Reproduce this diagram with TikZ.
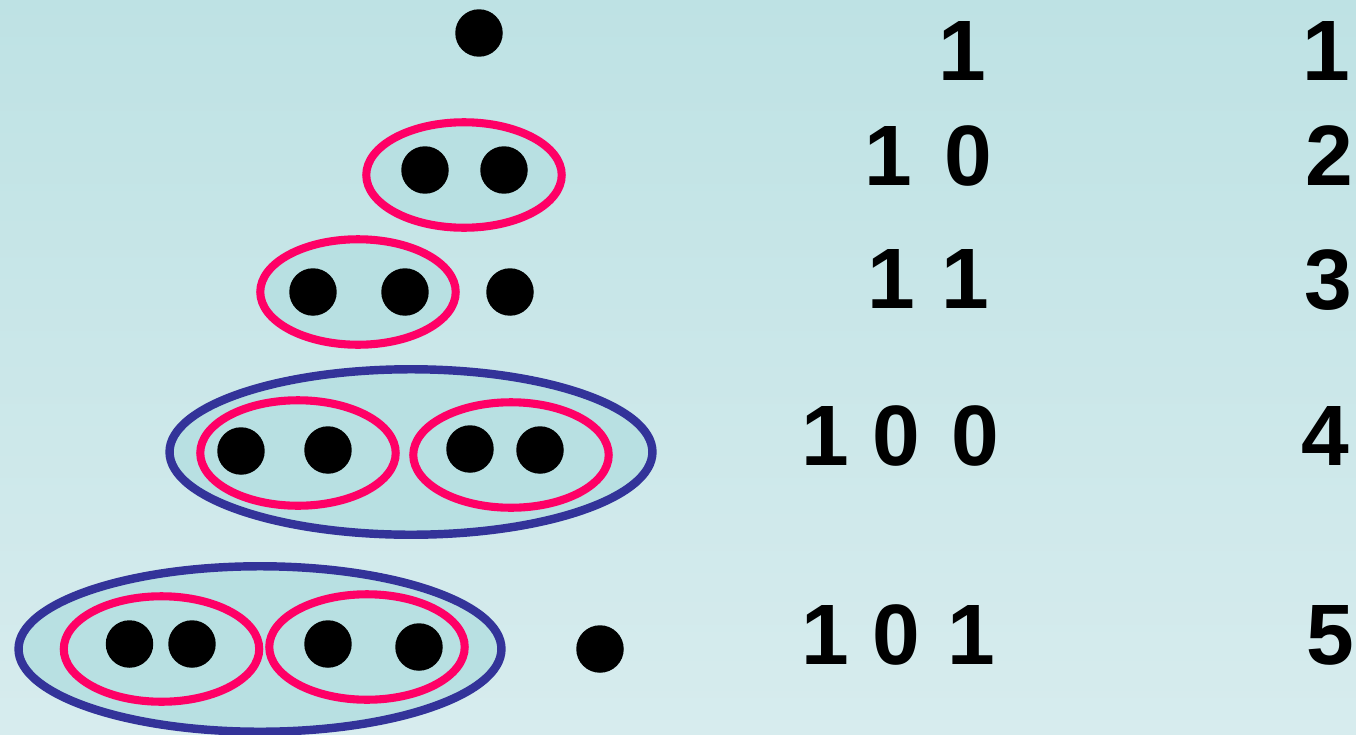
\documentclass[tikz,border=0pt]{standalone}
\usepackage{fontspec}
\setmainfont{Liberation Sans}
\usepackage{tikz}
\usetikzlibrary{shapes.geometric}

\definecolor{bgtop}{RGB}{190,226,228}
\definecolor{bgbottom}{RGB}{215,236,238}
\definecolor{groupfill}{RGB}{184,224,226}
\definecolor{pairpink}{RGB}{255,0,102}
\definecolor{quadblue}{RGB}{51,51,153}

\begin{document}
\begin{tikzpicture}[
    x=0.02cm, y=-0.02cm,
    dot/.style={circle, fill=black, minimum size=0.95cm, inner sep=0pt},
    pair/.style={ellipse, draw=pairpink, line width=4.6pt, fill=groupfill, minimum width=3.91cm, minimum height=2.11cm, inner sep=0pt},
    quad/.style={ellipse, draw=quadblue, line width=4.8pt, fill=groupfill, minimum width=9.66cm, minimum height=3.31cm, inner sep=0pt},
    digit/.style={anchor=base, inner sep=0pt, font=\fontsize{48.8}{58}\selectfont\bfseries}
]

% Hintergrund
\fill[top color=bgtop, bottom color=bgbottom] (0,0) rectangle (1356,734);
\useasboundingbox (0,0) rectangle (1356,734);

% Zeile 1
\node[dot] (d1) at (479,33) {};

% Zeile 2
\node[pair] (p2) at (464,175) {};
\node[dot] (d2a) at (425,170) {};
\node[dot] (d2b) at (504,170) {};

% Zeile 3
\node[pair] (p3) at (358,292) {};
\node[dot] (d3a) at (313,292) {};
\node[dot] (d3b) at (405,292) {};
\node[dot] (d3c) at (510,292) {};

% Zeile 4
\node[quad] (q4) at (411,452) {};
\node[pair] (p4a) at (298,453) {};
\node[pair] (p4b) at (511,455) {};
\node[dot] (d4a) at (241,451) {};
\node[dot] (d4b) at (328,450) {};
\node[dot] (d4c) at (470,449) {};
\node[dot] (d4d) at (540,450) {};

% Zeile 5
\node[quad] (q5) at (260,649) {};
\node[pair] (p5a) at (161.5,649) {};
\node[pair] (p5b) at (367,647) {};
\node[dot] (d5a) at (129.5,644) {};
\node[dot] (d5b) at (192,644) {};
\node[dot] (d5c) at (328,644) {};
\node[dot] (d5d) at (419,647) {};
\node[dot] (d5e) at (600,649) {};

% Binaerzahlen
\node[digit] (b1a) at (962,80) {1};
\node[digit] (b2a) at (888,185) {1};
\node[digit] (b2b) at (968,185) {0};
\node[digit] (b3a) at (891,308) {1};
\node[digit] (b3b) at (965.5,308) {1};
\node[digit] (b4a) at (825,465) {1};
\node[digit] (b4b) at (896.5,465) {0};
\node[digit] (b4c) at (975,465) {0};
\node[digit] (b5a) at (825,664) {1};
\node[digit] (b5b) at (896.5,664) {0};
\node[digit] (b5c) at (971,664) {1};

% Dezimalzahlen
\node[digit] (n1) at (1326,80) {1};
\node[digit] (n2) at (1329,185) {2};
\node[digit] (n3) at (1328,309) {3};
\node[digit] (n4) at (1325,465) {4};
\node[digit] (n5) at (1330,664) {5};

\end{tikzpicture}
\end{document}
